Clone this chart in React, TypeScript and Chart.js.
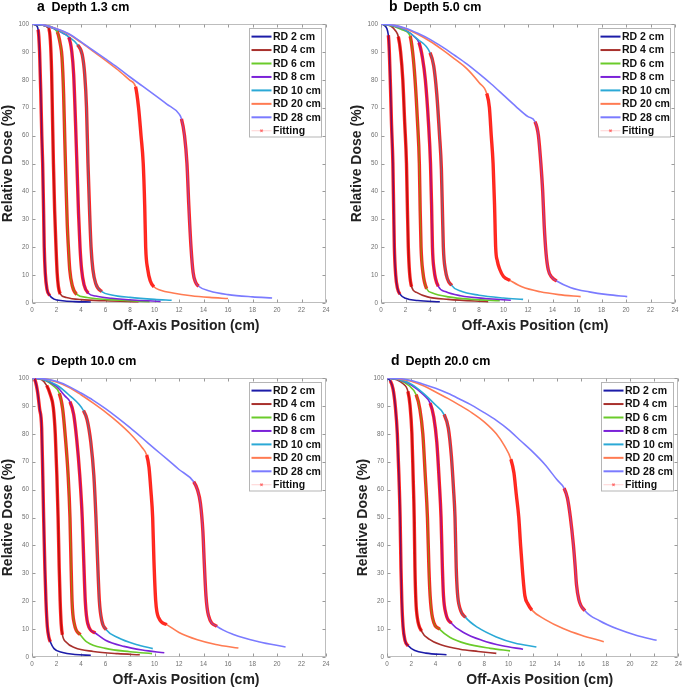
import React, { useEffect, useRef } from 'react';
import { Chart, registerables } from 'chart.js';

Chart.register(...registerables);

// ---------- labels / categories ----------
const SERIES_LABELS = ['RD 2 cm', 'RD 4 cm', 'RD 6 cm', 'RD 8 cm', 'RD 10 cm', 'RD 20 cm', 'RD 28 cm'];
const SERIES_COLORS = ['#1c1ca8', '#a8302c', '#6acb2a', '#7b22d8', '#2ba9d6', '#ff7b52', '#7b7bff'];
const SERIES_CORE = ['rgba(28,28,168,0.55)', 'rgba(140,30,30,0.6)', 'rgba(106,203,42,0.55)', 'rgba(123,34,216,0.55)', 'rgba(43,169,214,0.5)', 'rgba(255,123,82,0.3)', 'rgba(123,123,255,0.5)'];
const FIT_LABEL = 'Fitting';
const PANEL_LETTERS = ['a', 'b', 'c', 'd'];
const PANEL_TITLES = ['Depth 1.3 cm', 'Depth 5.0 cm', 'Depth 10.0 cm', 'Depth 20.0 cm'];
const X_TICK_VALUES = [0, 2, 4, 6, 8, 10, 12, 14, 16, 18, 20, 22, 24];
const Y_TICK_VALUES = [0, 10, 20, 30, 40, 50, 60, 70, 80, 90, 100];
const X_TITLE = 'Off-Axis Position (cm)';
const Y_TITLE = 'Relative Dose (%)';

// ---------- panel a : depth 1.3 cm  ([off-axis cm, dose %]) ----------
const a_rd2 = [[0,100],[0.3,99.6],[0.5,98],[0.62,90],[0.72,75],[0.8,60],[0.87,50],[0.95,32],[1.0,20],[1.08,11],[1.22,5],[1.45,2.7],[1.8,1.4],[2.5,0.8],[3.5,0.5],[4.8,0.35]];
const a_rd4 = [[0,100],[0.8,99.6],[1.36,98.4],[1.5,94],[1.6,83],[1.68,65],[1.75,50],[1.85,33],[1.96,20],[2.05,11],[2.15,6],[2.3,3.3],[2.8,2],[4,1.2],[6,0.8],[8.7,0.5]];
const a_rd6 = [[0,100],[1,99.5],[2.05,97.2],[2.3,93],[2.45,88],[2.58,75],[2.68,58],[2.78,42],[2.88,28],[2.97,20],[3.08,12],[3.3,6],[3.65,3.1],[4.5,2],[6,1.3],[8,0.8],[9.6,0.5]];
const a_rd8 = [[0,100],[1,99.5],[2,98],[2.6,96.5],[3.0,95.2],[3.25,90],[3.4,82],[3.55,65],[3.68,48],[3.8,32],[3.92,20],[4.05,12],[4.25,6.5],[4.6,3.5],[5.2,2.5],[6.5,1.7],[8.5,1.0],[10.5,0.6]];
const a_rd10 = [[0,100],[1,99.5],[2,98],[3,95.4],[3.72,92.5],[4.1,89],[4.3,82],[4.45,70],[4.57,50],[4.7,33],[4.82,20],[4.97,12],[5.2,7],[5.7,4.1],[6.5,2.9],[8,2],[10,1.3],[11.4,1]];
const a_rd20 = [[0,100],[1,99.6],[2,98.3],[3,96.3],[4,93.4],[5,90.2],[6,87],[7,83.6],[8,79.8],[8.45,77.5],[8.7,70],[8.9,60],[9.08,50],[9.2,35],[9.28,20],[9.45,12],[9.65,8],[9.95,5.8],[10.5,4.6],[11.5,3.6],[13,2.6],[14.5,2],[16,1.6]];
const a_rd28 = [[0,100],[1,99.6],[2,98.3],[3,96.5],[4,93.6],[5,90.5],[6,87.5],[7,84.4],[8,81],[9,77.8],[10,74.6],[11,71.3],[12,67.8],[12.2,66],[12.45,60],[12.65,50],[12.8,35],[12.98,20],[13.15,11],[13.35,7.5],[13.6,6],[14.5,4.3],[16,3],[18,2.2],[19.6,1.8]];
const a_fit = [[0.5,1.45],[1.36,2.3],[2.05,3.65],[3.0,4.6],[3.72,5.7],[8.45,9.95],[12.2,13.6]];

// ---------- panel b : depth 5.0 cm ----------
const b_rd2 = [[0,100],[0.3,99.4],[0.6,96],[0.68,90],[0.77,78],[0.86,64],[0.97,50],[1.04,32],[1.09,20],[1.2,10],[1.35,5.2],[1.55,3.2],[2,1.7],[3,0.9],[4.8,0.45]];
const b_rd4 = [[0,100],[0.8,99.3],[1.2,97.5],[1.41,95.5],[1.6,90],[1.78,80],[1.93,65],[2.08,50],[2.16,33],[2.23,20],[2.33,11],[2.5,5.8],[2.9,3.8],[3.8,2.2],[5.5,1.3],[8.75,0.5]];
const b_rd6 = [[0,100],[1,99.2],[1.8,97.8],[2.37,95.7],[2.58,90],[2.78,80],[2.98,65],[3.13,50],[3.2,33],[3.27,20],[3.42,11],[3.73,5.1],[4.2,3.6],[5.5,2.2],[7.5,1.3],[9.7,0.8]];
const b_rd8 = [[0,100],[1,99.4],[2,97.8],[2.7,95.5],[3.1,93.3],[3.38,88],[3.62,80],[3.87,65],[4.04,50],[4.13,35],[4.2,20],[4.33,12],[4.68,6],[5.3,4],[6.5,2.6],[8.5,1.6],[10.6,1.0]];
const b_rd10 = [[0,100],[1,99.4],[2,97.8],[3,94.5],[4,89.7],[4.3,85],[4.55,75],[4.78,60],[4.93,48],[5.02,32],[5.09,20],[5.25,12],[5.77,6.3],[6.5,4.3],[8,2.8],[10,1.8],[11.6,1.3]];
const b_rd20 = [[0,100],[1,99.6],[2,98.3],[3,96.3],[4,93.8],[5,90.8],[6,87.5],[7,84],[8,79],[8.63,75.1],[8.85,70],[9.0,60],[9.15,50],[9.27,35],[9.36,20],[9.5,15],[9.7,12],[10.0,9.5],[10.53,8.1],[11.5,5.8],[13,4],[14.5,3],[16.3,2.3]];
const b_rd28 = [[0,100],[1,99.6],[2,98.5],[3,96.7],[4,94.5],[5,91.8],[6,88.8],[7,85.7],[8,82.2],[9,78.5],[10,74.5],[11,70.5],[12,66.8],[12.57,65],[12.85,60],[13.05,50],[13.2,40],[13.32,28],[13.47,18],[13.65,12],[13.95,9.2],[14.34,7.9],[15.5,5.5],[17,4],[18.5,3],[20.1,2.3]];
const b_fit = [[0.6,1.55],[1.41,2.5],[2.37,3.73],[3.1,4.68],[4,5.77],[8.63,10.53],[12.57,14.34]];

// ---------- panel c : depth 10.0 cm ----------
const c_rd2 = [[0,100],[0.2,99.6],[0.43,95.7],[0.62,89],[0.79,82],[0.88,65],[0.95,50],[1.05,32],[1.14,20],[1.25,11],[1.38,7],[1.5,5.4],[1.8,3],[2.5,1.6],[3.5,0.9],[4.8,0.6]];
const c_rd4 = [[0,100],[0.8,99.4],[1.2,97.3],[1.5,94],[1.74,89.4],[1.9,80],[2.03,65],[2.13,50],[2.22,32],[2.3,20],[2.38,12],[2.48,8],[2.8,5.3],[3.5,3.3],[5,2],[7,1.2],[8.8,0.8]];
const c_rd6 = [[0,100],[1,99.3],[1.7,97.3],[2.23,94.5],[2.5,89],[2.7,80],[2.95,65],[3.1,50],[3.18,35],[3.27,20],[3.45,12],[3.94,8],[4.5,5.3],[6,3.1],[8,1.9],[9.8,1.2]];
const c_rd8 = [[0,100],[1,99.4],[2,97],[2.7,93.5],[3.1,91.5],[3.4,87],[3.65,78],[3.9,65],[4.1,50],[4.22,35],[4.35,20],[4.55,12],[5.16,8.6],[6,6],[7.5,3.8],[9,2.5],[10.8,1.5]];
const c_rd10 = [[0,100],[1,99.4],[2,97.5],[3,94],[4.2,88.3],[4.5,85],[4.8,77],[5.05,65],[5.22,50],[5.35,35],[5.5,20],[5.7,13],[6.06,9.8],[7,7],[8.5,4.5],[9.86,3]];
const c_rd20 = [[0,100],[1,99.7],[2,98.6],[3,96.7],[4,94],[5,91],[6,87.8],[7,84.2],[8,80.1],[9,75],[9.36,72.4],[9.55,68],[9.7,60],[9.85,50],[9.95,35],[10.1,20],[10.35,14],[11,11.6],[12,8.8],[13.5,6.2],[15,4.5],[16.85,3.2]];
const c_rd28 = [[0,100],[1,99.7],[2,98.8],[3,97],[4,94.6],[5,92],[6,89],[7,85.7],[8,82.2],[9,78.5],[10,74.7],[11,71],[12,67.2],[13.2,62.8],[13.5,60],[13.75,55],[13.95,45],[14.05,35],[14.2,22],[14.4,15],[15.1,11],[16.5,8],[18.5,5.5],[20.7,3.6]];
const c_fit = [[0.2,1.5],[1.2,2.48],[2.23,3.94],[3.1,5.16],[4.2,6.06],[9.36,11],[13.2,15.1]];

// ---------- panel d : depth 20.0 cm ----------
const d_rd2 = [[0,100],[0.27,99],[0.5,96],[0.68,90],[0.85,80],[0.98,65],[1.08,50],[1.15,32],[1.22,20],[1.32,11],[1.48,6],[1.75,4],[2.3,2.3],[3.2,1.4],[4.9,0.8]];
const d_rd4 = [[0,100],[0.8,99.4],[1.3,98],[1.72,95.2],[1.9,90],[2.05,80],[2.15,65],[2.24,50],[2.3,32],[2.38,20],[2.5,14],[2.84,9.3],[3.5,6.3],[4.5,4.3],[6,2.8],[7.5,2],[9,1.3]];
const d_rd6 = [[0,100],[1,99.3],[1.8,97.3],[2.4,94],[2.7,89],[2.95,80],[3.15,65],[3.33,50],[3.45,32],[3.55,22],[3.75,14],[4.34,9.9],[5.2,7],[6.5,4.8],[8.5,3.1],[10.13,2.2]];
const d_rd8 = [[0,100],[1,99.4],[2,97.5],[3,94],[3.55,91],[3.85,86],[4.1,77],[4.3,63],[4.45,50],[4.56,32],[4.65,22],[4.85,15.5],[5.3,12.1],[6.3,8.8],[7.8,6],[9.5,4],[11.2,2.8]];
const d_rd10 = [[0,100],[1,99.5],[2,97.8],[3,94.5],[4,90.3],[4.7,86.9],[5.05,82],[5.3,72],[5.48,60],[5.6,50],[5.7,32],[5.8,23],[6.0,17.5],[6.47,14.2],[7.5,10.5],[9,7.2],[10.5,5],[12.3,3.6]];
const d_rd20 = [[0,100],[1,99.7],[2,98.8],[3,97.2],[4,95],[5,92.7],[6,90.2],[7,87.5],[8,84.3],[9,80],[9.7,75.5],[10.2,70.9],[10.45,66],[10.65,58],[10.85,50],[11.0,40],[11.17,30],[11.35,22],[11.6,19],[11.93,16.8],[13,13.5],[14.5,10.2],[16,7.8],[17.85,5.5]];
const d_rd28 = [[0,100],[1,99.8],[2,99.1],[3,97.8],[4,96.3],[5,94.5],[6,92.4],[7,90.2],[8,87.6],[9,84.8],[10,81.5],[11,77.5],[12,73.5],[13,69],[14,63.5],[14.58,60.5],[14.85,57],[15.1,50],[15.35,40],[15.5,32],[15.6,26],[15.8,20.5],[16.3,16.6],[17.5,13],[19,10],[20.5,7.8],[22.2,6]];
const d_fit = [[0.27,1.75],[1.72,2.84],[2.4,4.34],[3.55,5.3],[4.7,6.47],[10.2,11.93],[14.58,16.3]];

// ---------- layout (positions only) ----------
type Box = { left: number; top: number; w: number; h: number; pl: number; pt: number; pr: number; pb: number; tdx: number };
const YW = 20;
const XH = 14;
const BOXES: Box[] = [
  { left: 0, top: 0, w: 340, h: 340, pl: 32, pt: 24, pr: 326, pb: 303, tdx: 5 },
  { left: 340, top: 0, w: 345, h: 340, pl: 41, pt: 24, pr: 335, pb: 303, tdx: 8 },
  { left: 0, top: 340, w: 340, h: 348, pl: 32, pt: 38, pr: 326, pb: 317, tdx: 5 },
  { left: 340, top: 340, w: 345, h: 348, pl: 47, pt: 38, pr: 340, pb: 317, tdx: 4 },
];

const PANEL_CURVES = [
  [a_rd2, a_rd4, a_rd6, a_rd8, a_rd10, a_rd20, a_rd28],
  [b_rd2, b_rd4, b_rd6, b_rd8, b_rd10, b_rd20, b_rd28],
  [c_rd2, c_rd4, c_rd6, c_rd8, c_rd10, c_rd20, c_rd28],
  [d_rd2, d_rd4, d_rd6, d_rd8, d_rd10, d_rd20, d_rd28],
];
const PANEL_FITS = [a_fit, b_fit, c_fit, d_fit];

const FONT = "'Liberation Sans', Arial, Helvetica, sans-serif";
const FIT_RED = 'rgba(255,0,0,0.85)';
const CLEAR = 'rgba(0,0,0,0)';

function drawStar(ctx: CanvasRenderingContext2D, x: number, y: number, r: number) {
  ctx.beginPath();
  for (let k = 0; k < 3; k++) {
    const a = (Math.PI / 3) * k;
    ctx.moveTo(x - r * Math.cos(a), y - r * Math.sin(a));
    ctx.lineTo(x + r * Math.cos(a), y + r * Math.sin(a));
  }
  ctx.stroke();
}

function makeDecor(idx: number) {
  return {
    id: 'decor' + idx,
    beforeDatasetsDraw(chart: any) {
      const { ctx, chartArea } = chart;
      const { left, top, right, bottom } = chartArea;
      const xs = chart.scales.x;
      const ys = chart.scales.y;
      ctx.save();
      ctx.strokeStyle = '#bdbdbd';
      ctx.lineWidth = 1;
      const L = Math.round(left) + 0.5, T = Math.round(top) + 0.5, R = Math.round(right) - 0.5, B = Math.round(bottom) - 0.5;
      ctx.strokeRect(L, T, R - L, B - T);
      ctx.strokeStyle = '#9a9a9a';
      ctx.beginPath();
      X_TICK_VALUES.forEach((v) => {
        const px = Math.round(xs.getPixelForValue(v)) + 0.5;
        ctx.moveTo(px, B); ctx.lineTo(px, B - 3);
        ctx.moveTo(px, T); ctx.lineTo(px, T + 3);
      });
      Y_TICK_VALUES.forEach((v) => {
        const py = Math.round(ys.getPixelForValue(v)) + 0.5;
        ctx.moveTo(L, py); ctx.lineTo(L + 3, py);
        ctx.moveTo(R, py); ctx.lineTo(R - 3, py);
      });
      ctx.stroke();
      ctx.restore();
    },
    afterDraw(chart: any) {
      const { ctx, chartArea } = chart;
      const { left, top, right, bottom } = chartArea;
      const box = BOXES[idx];
      ctx.save();
      // legend
      const bw = 72, bh = 108.5;
      const bx = Math.round(right - 5 - bw), by = Math.round(top + 4);
      ctx.fillStyle = '#ffffff';
      ctx.fillRect(bx, by, bw, bh);
      ctx.strokeStyle = '#b5b5b5';
      ctx.lineWidth = 1;
      ctx.strokeRect(bx + 0.5, by + 0.5, bw, bh);
      ctx.textBaseline = 'middle';
      ctx.textAlign = 'left';
      ctx.font = `bold 10.5px ${FONT}`;
      const labels = [...SERIES_LABELS, FIT_LABEL];
      labels.forEach((lab, i) => {
        const y = by + 8.6 + i * 13.45;
        if (i < SERIES_LABELS.length) {
          ctx.strokeStyle = SERIES_COLORS[i];
          ctx.lineWidth = 2;
          ctx.beginPath(); ctx.moveTo(bx + 2.5, y); ctx.lineTo(bx + 22.5, y); ctx.stroke();
        } else {
          ctx.strokeStyle = '#ffd2d2';
          ctx.lineWidth = 1;
          ctx.beginPath(); ctx.moveTo(bx + 2.5, y); ctx.lineTo(bx + 22.5, y); ctx.stroke();
          ctx.strokeStyle = '#ff6a6a';
          drawStar(ctx, bx + 12.5, y, 1.6);
        }
        ctx.fillStyle = '#111111';
        ctx.fillText(lab, bx + 24, y + 0.5);
      });
      // panel title
      ctx.fillStyle = '#000000';
      ctx.textBaseline = 'alphabetic';
      ctx.font = `bold 14px ${FONT}`;
      ctx.fillText(PANEL_LETTERS[idx], left + box.tdx, top - 13);
      ctx.font = `bold 12.5px ${FONT}`;
      ctx.fillText(PANEL_TITLES[idx], left + box.tdx + 14.5, top - 13);
      // axis titles
      ctx.fillStyle = '#222222';
      ctx.font = `bold 14px ${FONT}`;
      ctx.textAlign = 'center';
      ctx.textBaseline = 'middle';
      ctx.fillText(X_TITLE, (left + right) / 2 + 7, bottom + 23);
      ctx.translate(left - 23.5, (top + bottom) / 2);
      ctx.rotate(-Math.PI / 2);
      ctx.fillText(Y_TITLE, 0, 0);
      ctx.restore();
    },
  };
}

function Panel({ idx }: { idx: number }) {
  const ref = useRef<HTMLCanvasElement>(null);
  const box = BOXES[idx];
  useEffect(() => {
    const curves = PANEL_CURVES[idx];
    const fits = PANEL_FITS[idx];
    const datasets: any[] = [];
    const inFit = (ctx: any, fs: number, fe: number) =>
      ctx.p0.parsed.x >= fs - 1e-6 && ctx.p1.parsed.x <= fe + 1e-6;
    curves.forEach((c, i) => {
      datasets.push({
        label: SERIES_LABELS[i],
        data: c.map(([x, y]) => ({ x, y })),
        borderColor: SERIES_COLORS[i],
        borderWidth: 1.6,
        pointRadius: 0,
        fill: false,
        cubicInterpolationMode: 'monotone',
        order: 20 - i,
      });
    });
    curves.forEach((c, i) => {
      const [fs, fe] = fits[i];
      datasets.push({
        label: FIT_LABEL,
        data: c.map(([x, y]) => ({ x, y })),
        borderColor: FIT_RED,
        borderWidth: 3.4,
        pointRadius: 0,
        fill: false,
        cubicInterpolationMode: 'monotone',
        order: 5,
        segment: { borderColor: (ctx: any) => (inFit(ctx, fs, fe) ? FIT_RED : CLEAR) },
      });
      datasets.push({
        label: SERIES_LABELS[i] + ' core',
        data: c.map(([x, y]) => ({ x, y })),
        borderColor: SERIES_CORE[i],
        borderWidth: 1.3,
        pointRadius: 0,
        fill: false,
        cubicInterpolationMode: 'monotone',
        order: 1,
        segment: { borderColor: (ctx: any) => (inFit(ctx, fs, fe) ? SERIES_CORE[i] : CLEAR) },
      });
    });
    const tickFont = { family: FONT, size: 6.3 };
    const chart = new Chart(ref.current as HTMLCanvasElement, {
      type: 'line',
      data: { datasets },
      options: {
        animation: false,
        responsive: false,
        devicePixelRatio: 1,
        events: [],
        layout: {
          padding: {
            left: box.pl - YW,
            top: box.pt,
            right: box.w - box.pr,
            bottom: box.h - box.pb - XH,
          },
        },
        plugins: { legend: { display: false }, tooltip: { enabled: false }, title: { display: false } },
        scales: {
          x: {
            type: 'linear',
            min: 0,
            max: 24,
            grid: { display: false, drawTicks: false, tickLength: 0 },
            border: { display: false },
            afterBuildTicks: (s: any) => { s.ticks = X_TICK_VALUES.map((v) => ({ value: v })); },
            afterFit: (s: any) => { s.height = XH; },
            ticks: { autoSkip: false, maxRotation: 0, padding: 3, color: '#707070', font: tickFont },
          },
          y: {
            type: 'linear',
            min: 0,
            max: 100,
            grid: { display: false, drawTicks: false, tickLength: 0 },
            border: { display: false },
            afterBuildTicks: (s: any) => { s.ticks = Y_TICK_VALUES.map((v) => ({ value: v })); },
            afterFit: (s: any) => { s.width = YW; },
            ticks: { autoSkip: false, padding: 3, color: '#707070', font: tickFont },
          },
        },
      },
      plugins: [makeDecor(idx)],
    } as any);
    return () => chart.destroy();
  }, [idx]);
  return (
    <canvas
      ref={ref}
      width={box.w}
      height={box.h}
      style={{ position: 'absolute', left: box.left, top: box.top, width: box.w, height: box.h }}
    />
  );
}

export default function App() {
  return (
    <div style={{ position: 'fixed', left: 0, top: 0, width: 685, height: 688, background: '#ffffff' }}>
      {BOXES.map((_, i) => (
        <Panel key={i} idx={i} />
      ))}
    </div>
  );
}
